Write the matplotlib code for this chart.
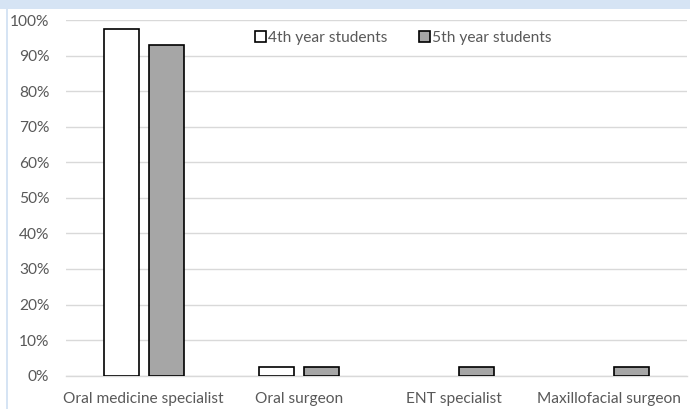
import matplotlib
matplotlib.use("Agg")
import matplotlib.pyplot as plt
import numpy as np
from matplotlib.patches import Rectangle

categories = ["Oral medicine specialist", "Oral surgeon", "ENT specialist", "Maxillofacial surgeon"]
series_names = ["4th year students", "5th year students"]
fourth_year = [97.5, 2.5, 0.0, 0.0]
fifth_year = [93.0, 2.5, 2.5, 2.5]
y_ticks = [0, 10, 20, 30, 40, 50, 60, 70, 80, 90, 100]
y_tick_labels = [f"{t}%" for t in y_ticks]

plt.rcParams["font.family"] = ["Lato", "DejaVu Sans"]
text_color = "#595959"
fs = 11.2

fig = plt.figure(figsize=(6.9, 4.09), dpi=100)
fig.patch.set_facecolor("white")

# light blue frame along the top and left edges
fig.add_artist(Rectangle((0, 1 - 9 / 409), 1, 9 / 409, transform=fig.transFigure,
                         facecolor="#D6E4F4", edgecolor="none", zorder=0))
fig.add_artist(Rectangle((6 / 690, 0), 2 / 690, 1, transform=fig.transFigure,
                         facecolor="#D6E4F4", edgecolor="none", zorder=0))

ax = fig.add_axes([66 / 690, (409 - 375.7) / 409, 621 / 690, 355.7 / 409])

x = np.arange(len(categories))
bar_w = 0.226
offset = 0.145
b1 = ax.bar(x - offset, fourth_year, bar_w, color="white", edgecolor="black",
            linewidth=1.2, zorder=3, label=series_names[0])
b2 = ax.bar(x + offset, fifth_year, bar_w, color="#A6A6A6", edgecolor="black",
            linewidth=1.2, zorder=3, label=series_names[1])
# hide outlines of zero-height bars
for rect, v in zip(b1, fourth_year):
    if v == 0:
        rect.set_visible(False)
for rect, v in zip(b2, fifth_year):
    if v == 0:
        rect.set_visible(False)

ax.set_xlim(-0.5, len(categories) - 0.5)
ax.set_ylim(0, 100)
ax.set_yticks(y_ticks)
ax.set_yticklabels(y_tick_labels)
ax.set_xticks(x)
ax.set_xticklabels(categories)
ax.yaxis.grid(True, color="#D9D9D9", linewidth=1.0, zorder=0)
ax.set_axisbelow(True)
for side in ["top", "right", "left"]:
    ax.spines[side].set_visible(False)
ax.spines["bottom"].set_color("#D9D9D9")
ax.spines["bottom"].set_linewidth(1.0)
ax.tick_params(axis="both", length=0, colors=text_color, labelsize=fs)
ax.tick_params(axis="y", pad=12)
ax.tick_params(axis="x", pad=12)

leg = ax.legend(loc="center", bbox_to_anchor=(0.543, 0.949), ncol=2, frameon=False,
                handlelength=0.7, handleheight=0.7, handletextpad=0.15,
                columnspacing=2.0, fontsize=fs, labelcolor=text_color)

fig.savefig("out.png", dpi=100)
